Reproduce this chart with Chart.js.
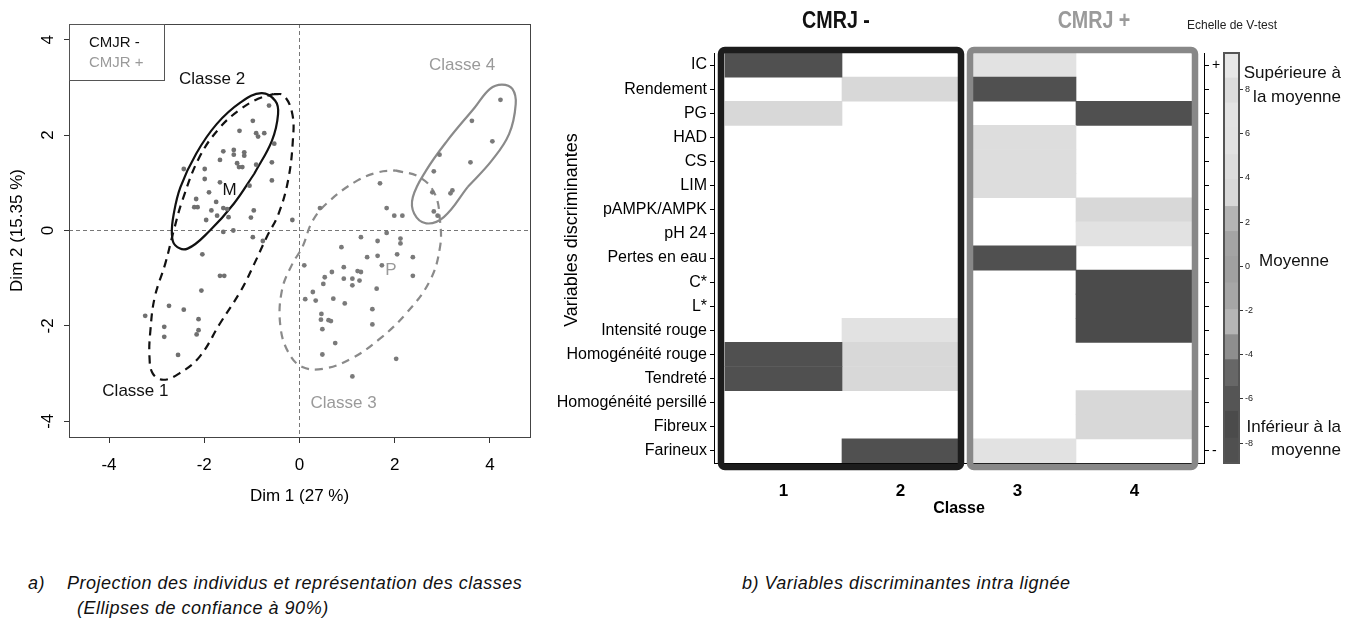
<!DOCTYPE html>
<html>
<head>
<meta charset="utf-8">
<script src="https://cdn.jsdelivr.net/npm/chart.js"></script>
<style>
  body { margin: 0; background: #fff; width: 1355px; height: 624px; overflow: hidden; position: relative;
         font-family: "Liberation Sans", Arial, sans-serif; }
  canvas { position: absolute; top: 0; }
  .t { position: absolute; white-space: nowrap; line-height: 1; }
  .c { transform: translate(-50%, -50%); }
  .l { transform: translate(0, -50%); }
  .r { transform: translate(-100%, -50%); }
  .head { font-weight: bold; font-size: 24px; transform: translate(-50%, -50%) scaleX(0.82); }
  .cap { font-style: italic; font-size: 18px; letter-spacing: 0.5px; color: #111; }
  .scl { font-size: 17px; color: #111; }
</style>
</head>
<body>
<canvas id="pca" width="545" height="530" style="left:0"></canvas>
<canvas id="heat" width="685" height="530" style="left:545px"></canvas>
<canvas id="vscale" width="50" height="530" style="left:1215px"></canvas>

<div class="t head" style="left:836px;top:20px;color:#111">CMRJ -</div>
<div class="t head" style="left:1094px;top:20px;color:#9a9a9a">CMRJ +</div>
<div class="t l" style="left:1187px;top:25px;font-size:12px;color:#222">Echelle de V-test</div>
<div class="t r scl" style="left:1341px;top:72px">Supérieure à</div>
<div class="t r scl" style="left:1341px;top:96px">la moyenne</div>
<div class="t c scl" style="left:1294px;top:260px">Moyenne</div>
<div class="t r scl" style="left:1341px;top:426px">Inférieur à la</div>
<div class="t r scl" style="left:1341px;top:449px">moyenne</div>

<div class="t l cap" style="left:28px;top:583px">a)</div>
<div class="t l cap" style="left:67px;top:583px">Projection des individus et représentation des classes</div>
<div class="t l cap" style="left:77px;top:608px">(Ellipses de confiance à 90%)</div>
<div class="t l cap" style="left:742px;top:583px">b) Variables discriminantes intra lignée</div>

<script>
// ---- a) PCA projection (Dim 1 / Dim 2) ----
const indivCmjrMinus = [
  [-0.64,2.62],[-0.98,2.30],[-1.26,2.09],[-0.91,2.04],[-0.74,2.04],[-0.87,1.97],[-0.53,1.82],
  [-1.60,1.66],[-1.38,1.69],[-1.16,1.64],[-1.38,1.59],[-1.16,1.57],[-1.67,1.48],[-1.31,1.41],
  [-1.27,1.33],[-1.20,1.33],[-0.91,1.38],[-0.58,1.43],[-2.43,1.29],[-1.99,1.29],[-1.99,1.08],
  [-1.67,1.01],[-1.05,0.94],[-0.58,1.05],[-1.90,0.80],[-2.17,0.66],[-1.75,0.60],[-2.21,0.49],
  [-2.14,0.49],[-1.85,0.42],[-1.60,0.47],[-1.52,0.45],[-0.96,0.42],[-1.73,0.31],[-1.49,0.28],
  [-1.02,0.27],[-1.96,0.22],[-0.15,0.22],[-1.60,-0.03],[-1.39,0.00],[-0.98,-0.14],[-0.77,-0.22],
  [-2.04,-0.50],[-1.67,-0.95],[-1.58,-0.95],[-2.06,-1.26],[-2.74,-1.58],[-2.43,-1.66],[-3.24,-1.79],
  [-2.12,-1.86],[-2.84,-2.02],[-2.12,-2.09],[-2.16,-2.18],[-2.84,-2.23],[-2.55,-2.61]
];
const indivCmjrPlus = [
  [4.22,2.74],[3.62,2.30],[4.05,1.87],[2.94,1.59],[3.59,1.43],[2.82,1.24],[1.69,0.99],[3.21,0.84],
  [3.17,0.78],[2.79,0.80],[0.43,0.47],[1.83,0.47],[1.99,0.31],[2.16,0.31],[2.82,0.40],[2.90,0.31],
  [1.83,-0.05],[1.29,-0.14],[1.64,-0.22],[2.12,-0.17],[2.12,-0.27],[0.88,-0.35],[1.64,-0.53],
  [1.42,-0.56],[1.73,-0.73],[2.05,-0.50],[2.38,-0.56],[0.10,-0.73],[0.93,-0.77],[0.68,-0.87],
  [1.22,-0.85],[1.29,-0.87],[0.53,-0.98],[0.93,-1.01],[1.11,-1.01],[1.26,-1.05],[2.38,-0.95],
  [0.50,-1.12],[1.11,-1.15],[1.62,-1.22],[0.28,-1.29],[0.12,-1.44],[0.34,-1.47],[0.71,-1.43],
  [0.95,-1.53],[1.53,-1.65],[0.46,-1.75],[0.45,-1.87],[0.61,-1.88],[0.66,-1.90],[1.53,-1.97],
  [0.48,-2.07],[0.75,-2.36],[0.48,-2.60],[2.03,-2.69],[1.11,-3.06]
];
// confidence ellipse outlines
const ellipseClasse1 = [
  [-0.55,2.86],[-0.33,2.83],[-0.15,2.44],[-0.14,1.88],[-0.24,1.05],[-0.44,0.35],[-0.69,-0.14],
  [-0.95,-0.70],[-1.23,-1.26],[-1.67,-1.95],[-2.10,-2.65],[-2.53,-3.00],[-2.86,-3.13],[-3.08,-3.00],
  [-3.15,-2.65],[-3.13,-2.09],[-3.04,-1.40],[-2.82,-0.70],[-2.64,0.00],[-2.46,0.63],[-2.10,1.54],
  [-1.67,2.16],[-1.23,2.55],[-0.87,2.76],[-0.55,2.86]
];
const ellipseClasse2 = [
  [-0.95,1.19],[-1.38,0.56],[-1.88,0.00],[-2.35,-0.38],[-2.61,-0.31],[-2.68,-0.07],[-2.64,0.35],
  [-2.50,0.91],[-2.17,1.61],[-1.74,2.23],[-1.23,2.69],[-0.80,2.88],[-0.51,2.72],[-0.45,2.44],
  [-0.58,1.88],[-0.95,1.19]
];
const ellipseClasse3 = [
  [2.01,1.26],[2.52,1.12],[2.84,0.77],[2.95,0.21],[2.95,-0.35],[2.74,-1.05],[2.23,-1.75],
  [1.65,-2.30],[1.08,-2.69],[0.50,-2.90],[0.06,-2.86],[-0.22,-2.58],[-0.40,-2.02],[-0.37,-1.26],
  [-0.15,-0.70],[0.06,-0.35],[0.28,0.21],[0.64,0.63],[1.22,1.05],[1.65,1.22],[2.01,1.26]
];
const ellipseClasse4 = [
  [3.53,0.91],[3.03,0.28],[2.66,0.15],[2.41,0.35],[2.38,0.70],[2.66,1.26],[3.10,1.88],[3.68,2.58],
  [4.00,2.97],[4.25,3.06],[4.47,2.97],[4.54,2.65],[4.40,2.02],[4.04,1.47],[3.53,0.91]
];
const pcaTicks = [-4, -2, 0, 2, 4];

// ---- b) discriminant variables, V-test per class (null = not significant) ----
const classLabels = ['1', '2', '3', '4'];
const variables = ['IC', 'Rendement', 'PG', 'HAD', 'CS', 'LIM', 'pAMPK/AMPK', 'pH 24', 'Pertes en eau',
  'C*', 'L*', 'Intensité rouge', 'Homogénéité rouge', 'Tendreté', 'Homogénéité persillé', 'Fibreux', 'Farineux'];
const vtestClasse1 = [-8.3, null, 3.5, null, null, null, null, null, null, null, null, null, -8.3, -8.3, null, null, null];
const vtestClasse2 = [null, 3.5, null, null, null, null, null, null, null, null, null, 5.5, 3.5, 3.5, null, null, -8.3];
const vtestClasse3 = [6.0, -8.3, null, 4.5, 4.5, 4.5, null, null, -8.3, null, null, null, null, null, null, null, 5.5];
const vtestClasse4 = [null, null, -8.3, null, null, null, 3.5, 5.5, null, -7.2, -7.2, -7.2, null, null, 3.5, 3.5, null];

// V-test colour scale
const vtestBreaks = [-8.9, -7.77, -6.56, -5.43, -4.22, -3.09, -1.96, -0.75, 0.45, 1.58, 2.71, 3.92, 5.05, 6.26, 7.39, 8.52, 9.65];
const vtestColors = ['#505050', '#4b4b4b', '#555555', '#676767', '#8e8e8e', '#b5b5b5', '#a6a6a6', '#a0a0a0',
  '#a4a4a4', '#b4b4b4', '#d8d8d8', '#dddddd', '#e2e2e2', '#e3e3e3', '#dcdcdc', '#e7e7e7'];
const vtestTicks = [-8, -6, -4, -2, 0, 2, 4, 6, 8];

Chart.defaults.font.family = '"Liberation Sans", Arial, sans-serif';
Chart.defaults.color = '#000';
Chart.defaults.animation = false;

const BLACK = '#111111';
const GREY = '#9a9a9a';
const toXY = arr => arr.map(p => ({ x: p[0], y: p[1] }));

function colourFor(v) {
  if (v === null) return 'rgba(0,0,0,0)';
  for (let i = 0; i < vtestColors.length; i++) {
    if (v >= vtestBreaks[i] && v < vtestBreaks[i + 1]) return vtestColors[i];
  }
  return vtestColors[vtestColors.length - 1];
}

// ---------- chart a) ----------
const pcaNotes = [
  { text: 'Classe 1', x: -4.14, y: -3.37, color: BLACK },
  { text: 'Classe 2', x: -2.53, y: 3.16, color: BLACK },
  { text: 'Classe 3', x: 0.23, y: -3.62, color: GREY },
  { text: 'Classe 4', x: 2.72, y: 3.46, color: GREY }
];
const pcaCentres = [
  { text: 'M', x: -1.47, y: 0.84, color: BLACK },
  { text: 'P', x: 1.92, y: -0.84, color: GREY }
];

const pcaDecor = {
  id: 'pcaDecor',
  beforeDatasetsDraw(chart) {
    const { ctx, chartArea: a, scales: { x, y } } = chart;
    const x0 = x.getPixelForValue(0), y0 = y.getPixelForValue(0);
    ctx.save();
    ctx.strokeStyle = '#777';
    ctx.lineWidth = 1;
    ctx.setLineDash([4, 3]);
    ctx.beginPath();
    ctx.moveTo(x0, a.top); ctx.lineTo(x0, a.bottom);
    ctx.moveTo(a.left, y0); ctx.lineTo(a.right, y0);
    ctx.stroke();
    ctx.restore();
  },
  afterDraw(chart) {
    const { ctx, chartArea: a, scales: { x, y } } = chart;
    ctx.save();
    ctx.strokeStyle = '#444';
    ctx.lineWidth = 1;
    ctx.strokeRect(a.left + 0.5, a.top + 0.5, a.right - a.left, a.bottom - a.top);

    // rotated y tick labels (R style)
    ctx.font = '17px "Liberation Sans", Arial, sans-serif';
    ctx.fillStyle = '#000';
    ctx.textAlign = 'center';
    ctx.textBaseline = 'middle';
    y.ticks.forEach(t => {
      ctx.save();
      ctx.translate(48, y.getPixelForValue(t.value));
      ctx.rotate(-Math.PI / 2);
      ctx.fillText(String(t.value), 0, 0);
      ctx.restore();
    });

    ctx.textAlign = 'left';
    pcaNotes.forEach(n => {
      ctx.fillStyle = n.color;
      ctx.fillText(n.text, x.getPixelForValue(n.x), y.getPixelForValue(n.y));
    });
    ctx.textAlign = 'center';
    pcaCentres.forEach(n => {
      ctx.fillStyle = n.color;
      ctx.fillText(n.text, x.getPixelForValue(n.x), y.getPixelForValue(n.y));
    });

    // legend box
    ctx.strokeStyle = '#555';
    ctx.strokeRect(a.left + 0.5, a.top + 0.5, 95, 56);
    ctx.font = '15px "Liberation Sans", Arial, sans-serif';
    ctx.textAlign = 'left';
    ctx.fillStyle = BLACK;
    ctx.fillText('CMJR -', a.left + 20, a.top + 19);
    ctx.fillStyle = GREY;
    ctx.fillText('CMJR +', a.left + 20, a.top + 39);
    ctx.restore();
  }
};

const ellipseStyle = (data, color, dashed) => ({
  data: toXY(data), showLine: true, borderColor: color, borderWidth: 2.2, borderDash: dashed ? [8, 6] : [],
  pointRadius: 0, fill: false, tension: 0.4
});

new Chart(document.getElementById('pca'), {
  type: 'scatter',
  data: {
    datasets: [
      { data: toXY(indivCmjrMinus), backgroundColor: '#707070', borderWidth: 0, pointRadius: 2.4 },
      { data: toXY(indivCmjrPlus), backgroundColor: '#7a7a7a', borderWidth: 0, pointRadius: 2.4 },
      ellipseStyle(ellipseClasse1, '#111', true),
      ellipseStyle(ellipseClasse2, '#111', false),
      ellipseStyle(ellipseClasse3, '#8a8a8a', true),
      ellipseStyle(ellipseClasse4, '#8a8a8a', false)
    ]
  },
  options: {
    responsive: false,
    layout: { padding: { top: 24, right: 15, left: 0, bottom: 0 } },
    plugins: { legend: { display: false }, tooltip: { enabled: false } },
    scales: {
      x: {
        min: -4.84, max: 4.84,
        afterBuildTicks: s => { s.ticks = pcaTicks.map(v => ({ value: v })); },
        afterFit: s => { s.height = 93; },
        grid: { drawOnChartArea: false, tickLength: 6, tickColor: '#333' },
        border: { display: false },
        ticks: { font: { size: 17 }, padding: 12, color: '#000' },
        title: { display: true, text: 'Dim 1 (27 %)', font: { size: 17 }, color: '#000', padding: { top: 0, bottom: 23 } }
      },
      y: {
        min: -4.33, max: 4.33,
        afterBuildTicks: s => { s.ticks = pcaTicks.map(v => ({ value: v })); },
        afterFit: s => { s.width = 69; },
        grid: { drawOnChartArea: false, tickLength: 5, tickColor: '#333' },
        border: { display: false },
        ticks: { display: false },
        title: { display: true, text: 'Dim 2 (15.35 %)', font: { size: 17 }, color: '#000', padding: { top: 7, bottom: 0 } }
      }
    }
  },
  plugins: [pcaDecor]
});

// ---------- chart b) heat map ----------
const classGroups = [
  { from: 0, to: 2, color: '#1c1c1c', padL: -4, padR: 2 },
  { from: 2, to: 4, color: '#888888', padL: 11, padR: 2 }
];

const heatDecor = {
  id: 'heatDecor',
  afterDatasetsDraw(chart) {
    const { ctx, chartArea: a, scales: { x } } = chart;
    ctx.save();
    // white gap between the two class groups
    const gapL = x.getPixelForValue(2) + 2, gapR = x.getPixelForValue(2) + 11;
    ctx.fillStyle = '#fff';
    ctx.fillRect(gapL, a.top, gapR - gapL, a.bottom - a.top);
    ctx.lineWidth = 6.5;
    classGroups.forEach(g => {
      const l = x.getPixelForValue(g.from) + g.padL;
      const r = x.getPixelForValue(g.to) + g.padR;
      ctx.strokeStyle = g.color;
      ctx.beginPath();
      ctx.roundRect(l, a.top - 3, r - l, a.bottom - a.top + 7, 4);
      ctx.stroke();
    });
    // axis title
    ctx.font = '18px "Liberation Sans", Arial, sans-serif';
    ctx.fillStyle = '#000';
    ctx.textAlign = 'center';
    ctx.textBaseline = 'middle';
    ctx.translate(27, 230);
    ctx.rotate(-Math.PI / 2);
    ctx.fillText('Variables discriminantes', 0, 0);
    ctx.restore();
  }
};

const vtestByClass = [vtestClasse1, vtestClasse2, vtestClasse3, vtestClasse4];

new Chart(document.getElementById('heat'), {
  type: 'bar',
  data: {
    labels: variables,
    datasets: vtestByClass.map((vals, c) => ({
      data: vals.map(() => [c, c + 1]),
      backgroundColor: vals.map(colourFor),
      borderWidth: 0,
      grouped: false,
      barPercentage: 1,
      categoryPercentage: 1
    }))
  },
  options: {
    indexAxis: 'y',
    responsive: false,
    layout: { padding: { top: 53, left: 0, right: 0, bottom: 0 } },
    plugins: { legend: { display: false }, tooltip: { enabled: false } },
    scales: {
      x: {
        type: 'linear', min: -0.094, max: 4.094,
        afterBuildTicks: s => { s.ticks = classLabels.map((_, i) => ({ value: i + 0.5 })); },
        afterFit: s => { s.height = 67; },
        grid: { drawOnChartArea: false, drawTicks: false },
        border: { display: true, color: '#000', width: 1 },
        ticks: { callback: (v, i) => classLabels[i], font: { size: 17, weight: 'bold' }, padding: 18, color: '#000' },
        title: { display: true, text: 'Classe', font: { size: 16, weight: 'bold' }, color: '#000', padding: { top: 0, bottom: 12 } }
      },
      y: {
        type: 'category', position: 'left', offset: true,
        afterFit: s => { s.width = 169; },
        grid: { drawOnChartArea: false, offset: false, tickLength: 4, tickColor: '#000' },
        border: { display: true, color: '#000', width: 1 },
        ticks: { autoSkip: false, font: { size: 16 }, padding: 3, color: '#000' }
      },
      y2: {
        type: 'category', position: 'right', offset: true, labels: variables,
        afterFit: s => { s.width = 26; },
        grid: { drawOnChartArea: false, offset: false, tickLength: 5, tickColor: '#000' },
        border: { display: true, color: '#000', width: 1 },
        ticks: {
          autoSkip: false, font: { size: 14 }, padding: 3, color: '#000',
          callback: (v, i) => (i === 0 ? '+' : (i === variables.length - 1 ? '-' : ''))
        }
      }
    }
  },
  plugins: [heatDecor]
});

// ---------- V-test colour key ----------
const frame = {
  id: 'frame',
  afterDatasetsDraw(chart) {
    const { ctx, chartArea: a } = chart;
    ctx.save();
    ctx.strokeStyle = '#555';
    ctx.lineWidth = 2;
    ctx.strokeRect(a.left, a.top, a.right - a.left, a.bottom - a.top);
    ctx.restore();
  }
};

new Chart(document.getElementById('vscale'), {
  type: 'bar',
  data: {
    labels: [''],
    datasets: vtestColors.map((col, i) => ({
      data: [[vtestBreaks[i], vtestBreaks[i + 1]]],
      backgroundColor: col,
      borderWidth: 0,
      grouped: false,
      barPercentage: 1,
      categoryPercentage: 1
    }))
  },
  options: {
    responsive: false,
    layout: { padding: { top: 53, left: 9, right: 0, bottom: 67 } },
    plugins: { legend: { display: false }, tooltip: { enabled: false } },
    scales: {
      x: { display: false },
      y: {
        position: 'right', min: vtestBreaks[0], max: vtestBreaks[vtestBreaks.length - 1],
        afterBuildTicks: s => { s.ticks = vtestTicks.map(v => ({ value: v })); },
        afterFit: s => { s.width = 26; },
        grid: { drawOnChartArea: false, tickLength: 4, tickColor: '#333' },
        border: { display: false },
        ticks: { font: { size: 9 }, padding: 2, color: '#222' }
      }
    }
  },
  plugins: [frame]
});
</script>
</body>
</html>
